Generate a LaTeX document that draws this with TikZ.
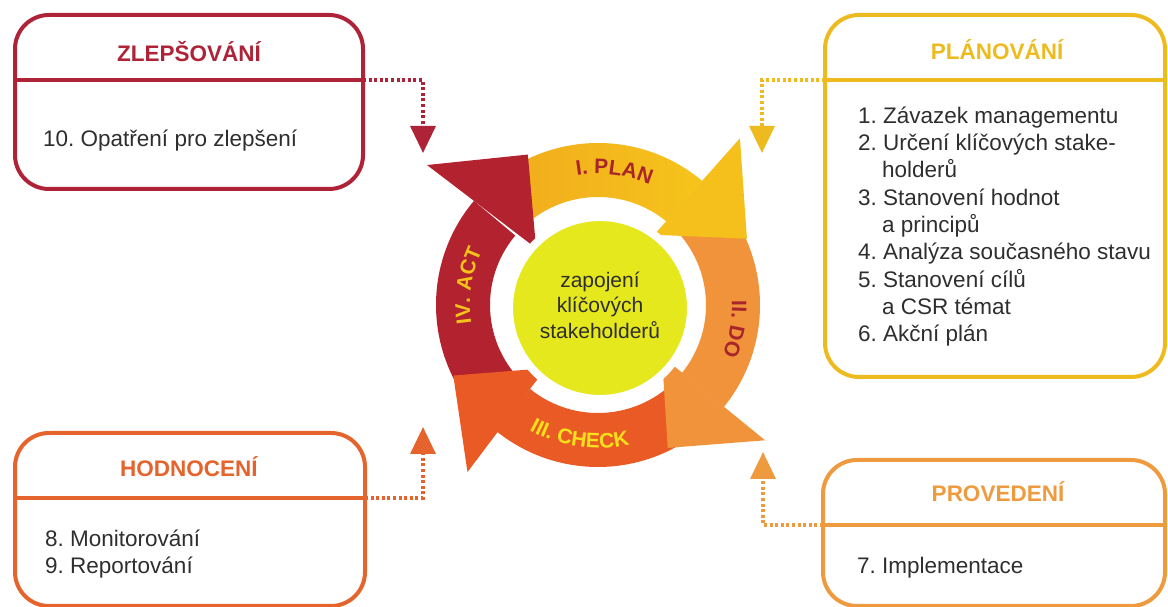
\documentclass[tikz,border=0pt]{standalone}
\usepackage{fontspec}
\setmainfont{Liberation Sans}
\usetikzlibrary{arrows.meta,calc,decorations.text}
\definecolor{zcol}{HTML}{AE2337}
\definecolor{pcol}{HTML}{EDBB1F}
\definecolor{hcol}{HTML}{E5632C}
\definecolor{vcol}{HTML}{EE9A3E}
\definecolor{planA}{HTML}{F0A81E}
\definecolor{planB}{HTML}{F6C41B}
\definecolor{planhead}{HTML}{F6C01C}
\definecolor{docol}{HTML}{F0933A}
\definecolor{checkcol}{HTML}{EA5A24}
\definecolor{actcol}{HTML}{B3232F}
\definecolor{core}{HTML}{E6E81E}
\definecolor{txt}{HTML}{2E2E2E}
\definecolor{darkred}{HTML}{A8252B}
\definecolor{ylw}{HTML}{F6E01C}
\definecolor{actlbl}{HTML}{F4C21A}
\frenchspacing
\begin{document}
\frenchspacing
\begin{tikzpicture}[x=1pt,y=1pt,
  box/.style={draw=#1, line width=4pt, rounded corners=34pt, inner sep=0pt},
  title/.style={font=\fontsize{22.5}{27}\selectfont\bfseries, text=#1, anchor=base, inner sep=0pt},
  item/.style={font=\fontsize{22.5}{27}\selectfont\frenchspacing, text=txt, anchor=base west, inner sep=0pt},
  divider/.style={draw=#1, line width=4pt},
  link/.style={draw=#1, line width=3.5pt, dash pattern=on 3pt off 2.6pt, -{Triangle[length=27pt,width=25pt]}},
  arclbl/.style={decorate, decoration={text along path, text align=center, text color=#1}}
]
\useasboundingbox (0,0) rectangle (1168,607);
\clip (0,0) rectangle (1168,607);

% ---------- cycle ----------
\coordinate (c) at (598,302);
% bodies
\shade[left color=planA, right color=planB]
  ($(c)+(138:162pt)$) arc[start angle=138, end angle=50, radius=162pt]
  -- ($(c)+(50:108pt)$) arc[start angle=50, end angle=138, radius=108pt] -- cycle;
\fill[docol]
  ($(c)+(48:162pt)$) arc[start angle=48, end angle=-39, radius=162pt]
  -- ($(c)+(-39:108pt)$) arc[start angle=-39, end angle=48, radius=108pt] -- cycle;
\fill[checkcol]
  ($(c)+(-42:162pt)$) arc[start angle=-42, end angle=-129, radius=162pt]
  -- ($(c)+(-129:108pt)$) arc[start angle=-129, end angle=-42, radius=108pt] -- cycle;
\fill[actcol]
  ($(c)+(228:162pt)$) arc[start angle=228, end angle=140, radius=162pt]
  -- ($(c)+(140:108pt)$) arc[start angle=140, end angle=228, radius=108pt] -- cycle;
% heads
\fill[planhead] ($(c)+(49.6:219pt)$) -- ($(c)+(24:163pt)$) -- ($(c)+(51.3:90pt)$) -- cycle;
\fill[docol] ($(c)+(-39:215pt)$) -- ($(c)+(-64:159pt)$) -- ($(c)+(-38.7:82pt)$) -- cycle;
\fill[checkcol] ($(c)+(-128:212pt)$) -- ($(c)+(-154:161pt)$) -- ($(c)+(-129.6:82pt)$) -- cycle;
\fill[actcol] ($(c)+(140.7:221pt)$) -- ($(c)+(115:166pt)$) -- ($(c)+(137.5:84pt)$) -- cycle;

% labels on the ring
\path[arclbl=darkred, decoration={text={|\fontsize{21}{21}\selectfont\bfseries|I. PLAN}}]
  ($(c)+(113:131pt)$) arc[start angle=113, end angle=53, radius=131pt];
\path[arclbl=darkred, decoration={text={|\fontsize{21}{21}\selectfont\bfseries|II. DO}}]
  ($(c)+(20:134pt)$) arc[start angle=20, end angle=-40, radius=134pt];
\path[arclbl=ylw, decoration={text={|\fontsize{21}{21}\selectfont\bfseries|III. CHECK}}]
  ($(c)+(-128:143pt)$) arc[start angle=-128, end angle=-68, radius=143pt];
\path[arclbl=actlbl, decoration={text={|\fontsize{21}{21}\selectfont\bfseries|IV. ACT}}]
  ($(c)+(201.5:128pt)$) arc[start angle=201.5, end angle=141.5, radius=128pt];

% core
\node[circle, fill=core, draw=white, line width=8pt, minimum size=182pt, inner sep=0pt] (core) at (600,299) {};
\node[font=\fontsize{21}{25.5}\selectfont, text=txt, align=center] (coretext) at (600,302)
  {zapojení\\klíčových\\stakeholderů};

% ---------- ZLEPŠOVÁNÍ ----------
\node[box=zcol, minimum width=348pt, minimum height=174pt] (zbox) at (189,505) {};
\coordinate (zdl) at (15,527);
\coordinate (zdr) at (363,527);
\draw[divider=zcol] (zdl) -- (zdr);
\node[title=zcol] (ztitle) at (189,545) {ZLEPŠOVÁNÍ};
\node[item] (z1) at (43,460) {10. Opatření pro zlepšení};
\coordinate (zend) at (423,454);
\draw[link=zcol] (zdr) -| (zend);

% ---------- PLÁNOVÁNÍ ----------
\node[box=pcol, minimum width=340pt, minimum height=362pt] (pbox) at (995,411) {};
\coordinate (pdl) at (825,527);
\coordinate (pdr) at (1165,527);
\draw[divider=pcol] (pdl) -- (pdr);
\node[title=pcol] (ptitle) at (997,547) {PLÁNOVÁNÍ};
\node[item] (p1) at (858,483.7) {1. Závazek managementu};
\node[item] (p2) at (858,456.4) {2. Určení klíčových stake-};
\node[item] (p3) at (882,429.1) {holderů};
\node[item] (p4) at (858,401.8) {3. Stanovení hodnot};
\node[item] (p5) at (882,374.5) {a principů};
\node[item] (p6) at (858,347.2) {4. Analýza současného stavu};
\node[item] (p7) at (858,319.9) {5. Stanovení cílů};
\node[item] (p8) at (882,292.6) {a CSR témat};
\node[item] (p9) at (858,265.3) {6. Akční plán};
\coordinate (pend) at (762,454);
\draw[link=pcol] (pdl) -| (pend);

% ---------- HODNOCENÍ ----------
\node[box=hcol, minimum width=350pt, minimum height=173pt] (hbox) at (190,87.5) {};
\coordinate (hdl) at (15,109);
\coordinate (hdr) at (365,109);
\draw[divider=hcol] (hdl) -- (hdr);
\node[title=hcol] (htitle) at (189,130) {HODNOCENÍ};
\node[item] (h1) at (45,60) {8. Monitorování};
\node[item] (h2) at (45,33) {9. Reportování};
\coordinate (hend) at (423,180);
\draw[link=hcol] (hdr) -| (hend);

% ---------- PROVEDENÍ ----------
\node[box=vcol, minimum width=342pt, minimum height=146pt] (vbox) at (994,74) {};
\coordinate (vdl) at (823,82);
\coordinate (vdr) at (1165,82);
\draw[divider=vcol] (vdl) -- (vdr);
\node[title=vcol] (vtitle) at (998,105) {PROVEDENÍ};
\node[item] (v1) at (857,33) {7. Implementace};
\coordinate (vend) at (763,155);
\draw[link=vcol] (vdl) -| (vend);
\end{tikzpicture}
\end{document}
